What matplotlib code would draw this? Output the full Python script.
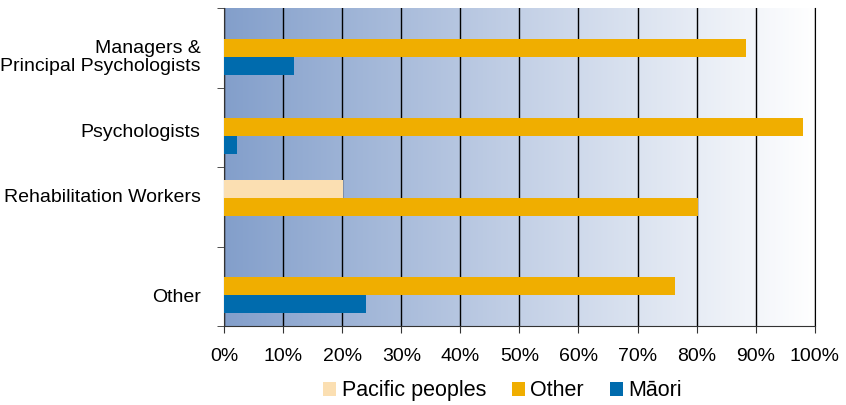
import numpy as np
import matplotlib.pyplot as plt
from matplotlib.colors import LinearSegmentedColormap

plt.rcParams['font.family'] = ['Liberation Sans', 'DejaVu Sans']

# Data
categories = ['Managers &\nPrincipal Psychologists', 'Psychologists',
              'Rehabilitation Workers', 'Other']
pacific = [0, 0, 20.1, 0]
other = [88.3, 98.0, 80.2, 76.3]
maori = [11.8, 2.1, 0, 24.0]
series_names = ['Pacific peoples', 'Other', 'M\u0101ori']
colors = ['#FBDFB2', '#F0AE00', '#006BAD']

fig = plt.figure(figsize=(8.46, 4.05), dpi=100)
ax = fig.add_axes([0.265, 0.195, 0.698, 0.785])

# gradient background
cmap = LinearSegmentedColormap.from_list('bg', ['#839FCB', '#C3D0E6', '#FFFFFF'])
grad = np.linspace(0, 1, 256).reshape(1, -1)
ax.imshow(grad, extent=[0, 100, 3.5, -0.5], aspect='auto', cmap=cmap, zorder=0)

y = np.arange(len(categories))
h = 0.225
ax.barh(y - h, pacific, height=h, color=colors[0], label=series_names[0], zorder=3)
ax.barh(y, other, height=h, color=colors[1], label=series_names[1], zorder=3)
ax.barh(y + h, maori, height=h, color=colors[2], label=series_names[2], zorder=3)

ax.set_xlim(0, 100)
ax.set_ylim(3.5, -0.5)

# vertical gridlines
ax.set_xticks(np.arange(0, 101, 10))
ax.set_xticklabels([f'{v}%' for v in range(0, 101, 10)], fontsize=14)
ax.grid(axis='x', color='black', linewidth=1, zorder=1)
ax.set_axisbelow(True)

# boundaries as tick marks, labels slightly shifted like the original
ax.set_yticks(np.arange(-0.5, 3.6, 1), minor=True)
label_offsets = [0.09, 0.04, -0.14, 0.11]
ax.set_yticks(y + np.array(label_offsets))
ax.set_yticklabels(categories, fontsize=14, linespacing=1.1)
ax.tick_params(axis='y', which='major', length=0, pad=17)
ax.tick_params(axis='y', which='minor', length=5, color='#333333')
ax.tick_params(axis='x', length=5, color='#333333', pad=11)

ax.spines['top'].set_visible(False)
ax.spines['right'].set_color('black')
ax.spines['left'].set_color('#333333')
ax.spines['bottom'].set_color('#333333')

fig.legend(loc='center', bbox_to_anchor=(0.594, 0.035), ncol=3,
           frameon=False, fontsize=15.5, handlelength=0.62, handleheight=0.62,
           handletextpad=0.25, columnspacing=1.2)

fig.savefig('out.png', dpi=100)
